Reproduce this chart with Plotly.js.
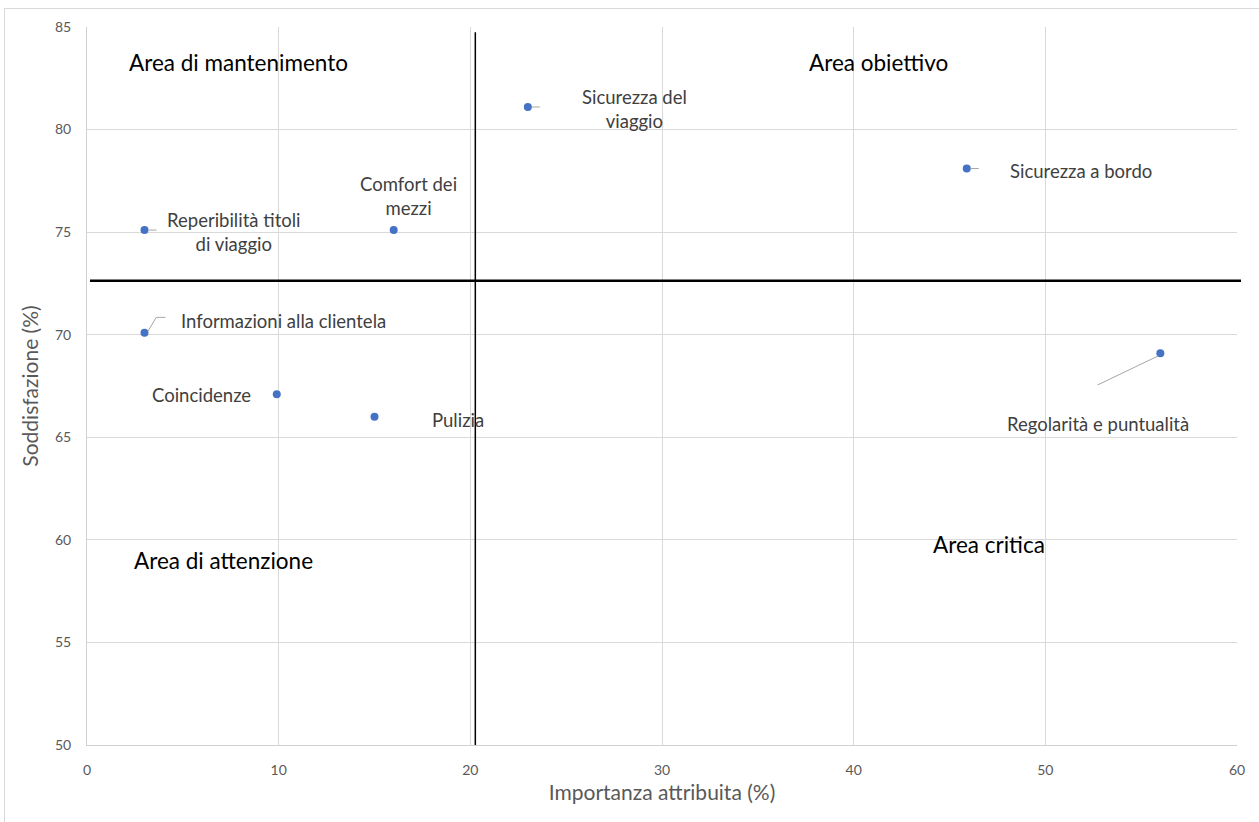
<!DOCTYPE html>
<html>
<head>
<meta charset="utf-8">
<script src="https://cdn.plot.ly/plotly-3.0.1.min.js"></script>
<style>
html,body{margin:0;padding:0;background:#fff;}
#chart{position:absolute;left:0;top:0;width:1259px;height:822px;}
#frame{position:absolute;left:4px;top:8px;width:1255px;height:814px;border-top:1px solid #d9d9d9;border-left:1px solid #d9d9d9;pointer-events:none;box-sizing:border-box;}
</style>
</head>
<body>
<div id="chart"></div>
<div id="frame"></div>
<script>
// Data
const labels = ["Sicurezza del<br>viaggio", "Comfort dei<br>mezzi", "Reperibilità titoli<br>di viaggio", "Sicurezza a bordo", "Regolarità e puntualità", "Informazioni alla clientela", "Coincidenze", "Pulizia"];
const importanza = [23, 16, 3, 45.9, 56, 3, 9.9, 15];
const soddisfazione = [81.1, 75.1, 75.1, 78.1, 69.1, 70.1, 67.1, 66];
// label offsets in pixels (from point)
const labelDx = [107, 15, 89, 114, -62, 139, -75, 83];
const labelDy = [-2, 34, -2, -2, -71, 12, -1, -3];

const areaNames = ["Area di mantenimento", "Area obiettivo", "Area di attenzione", "Area critica"];
const areaX = [7.93, 41.3, 7.1, 47.06];
const areaY = [83.25, 83.25, 58.97, 59.75];

const thresholdX = 20.26;
const thresholdY = 72.63;

const FONT = "Lato, 'Open Sans', sans-serif";

const trace = {
  type: 'scatter', mode: 'markers',
  x: importanza, y: soddisfazione,
  marker: {color: '#4472c4', size: 8},
  hoverinfo: 'skip', showlegend: false
};

const annotations = [];
labels.forEach((t, i) => {
  annotations.push({
    x: importanza[i], y: soddisfazione[i], xref: 'x', yref: 'y',
    text: t, showarrow: false, xshift: labelDx[i], yshift: labelDy[i],
    xanchor: 'center', yanchor: 'middle', align: 'center',
    font: {family: FONT, size: 18.5, color: '#404040'}
  });
});
areaNames.forEach((t, i) => {
  annotations.push({
    x: areaX[i], y: areaY[i], xref: 'x', yref: 'y', text: t, showarrow: false,
    xanchor: 'center', yanchor: 'middle',
    font: {family: FONT, size: 22.5, color: '#000000'}
  });
});

const leaderColor = '#a6a6a6';
function leader(i, x0, y0, x1, y1) {
  return {type: 'line', xref: 'x', yref: 'y', xsizemode: 'pixel', ysizemode: 'pixel',
    xanchor: importanza[i], yanchor: soddisfazione[i], x0: x0, y0: y0, x1: x1, y1: y1,
    line: {color: leaderColor, width: 1}};
}

const shapes = [
  {type: 'line', xref: 'x', yref: 'y', x0: thresholdX, x1: thresholdX, y0: 50, y1: 84.74,
   line: {color: '#000', width: 1.5}},
  {type: 'line', xref: 'paper', yref: 'y', x0: 0.0026, x1: 1.0035, y0: thresholdY, y1: thresholdY,
   line: {color: '#000', width: 2.5}},
  leader(0, 4, 0, 12, 0),
  leader(2, 4, 0, 12, 0),
  leader(3, 4, 0, 12, 0),
  leader(4, -62.6, -31.7, -2, -2.7),
  leader(5, 3.4, 1.3, 11.7, 15.3),
  leader(5, 11.7, 15.3, 21, 15.3)
];

const layout = {
  width: 1259, height: 822,
  margin: {l: 87, r: 22, t: 27, b: 77},
  paper_bgcolor: '#fff', plot_bgcolor: '#fff',
  font: {family: FONT, color: '#595959'},
  xaxis: {
    range: [0, 60], dtick: 10, tick0: 0, showgrid: true, gridcolor: '#d9d9d9', gridwidth: 1,
    zeroline: false, showline: true, linecolor: '#d0d0d0', mirror: false,
    ticks: '', ticklabelstandoff: 12,
    tickfont: {family: FONT, size: 14, color: '#595959'},
    title: {text: 'Importanza attribuita (%)', font: {family: FONT, size: 21, color: '#595959'}, standoff: 8}
  },
  yaxis: {
    range: [50, 85], dtick: 5, tick0: 50, showgrid: true, gridcolor: '#d9d9d9', gridwidth: 1,
    zeroline: false, showline: true, linecolor: '#d0d0d0',
    ticks: '', ticklabelstandoff: 12,
    tickfont: {family: FONT, size: 14, color: '#595959'},
    title: {text: 'Soddisfazione (%)', font: {family: FONT, size: 21, color: '#595959'}, standoff: 10}
  },
  annotations: annotations,
  shapes: shapes
};

Plotly.newPlot('chart', [trace], layout, {displayModeBar: false, staticPlot: true});
</script>
</body>
</html>
